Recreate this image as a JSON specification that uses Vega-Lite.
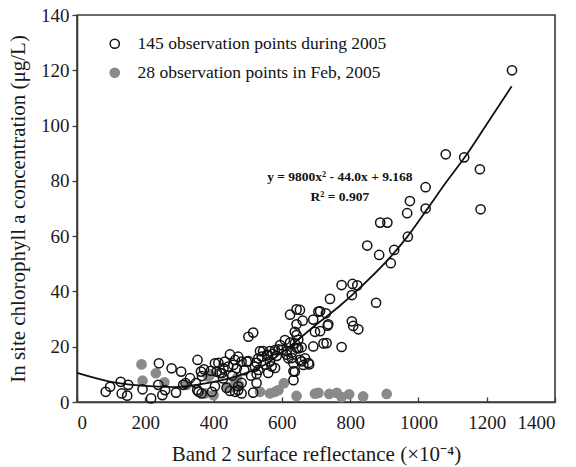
{
  "$schema": "https://vega.github.io/schema/vega-lite/v6.json",
  "width": 478,
  "height": 387,
  "autosize": {"type": "none"},
  "padding": {"left": 77, "top": 15, "right": 21, "bottom": 65},
  "background": "white",
  "config": {
    "font": "Liberation Serif",
    "view": {"stroke": "#3a3a3a", "strokeWidth": 1.6},
    "axis": {
      "grid": false,
      "domainColor": "#3a3a3a",
      "domainWidth": 1.6,
      "tickColor": "#3a3a3a",
      "tickWidth": 1.3,
      "labelFont": "Liberation Serif",
      "labelFontSize": 19,
      "labelColor": "#1a1a1a",
      "titleFont": "Liberation Serif",
      "titleFontSize": 21,
      "titleFontWeight": "normal",
      "titleColor": "#1a1a1a"
    },
    "legend": {"padding": 0}
  },
  "datasets": {
    "obs": [
      {"x": 189, "y": 13.6, "s": "B"}, {"x": 192, "y": 7.7, "s": "B"}, {"x": 231, "y": 10.4, "s": "B"}, {"x": 256, "y": 7.1, "s": "B"},
      {"x": 321, "y": 6.2, "s": "B"}, {"x": 375, "y": 3.1, "s": "B"}, {"x": 385, "y": 9.2, "s": "B"}, {"x": 390, "y": 10, "s": "B"},
      {"x": 400, "y": 2.5, "s": "B"}, {"x": 440, "y": 5.3, "s": "B"}, {"x": 450, "y": 5.3, "s": "B"}, {"x": 465, "y": 7.4, "s": "B"},
      {"x": 468, "y": 8.6, "s": "B"}, {"x": 475, "y": 6.0, "s": "B"}, {"x": 536, "y": 3.7, "s": "B"}, {"x": 565, "y": 3.1, "s": "B"},
      {"x": 580, "y": 3.7, "s": "B"}, {"x": 590, "y": 4.3, "s": "B"}, {"x": 606, "y": 6.8, "s": "B"}, {"x": 643, "y": 2.2, "s": "B"},
      {"x": 697, "y": 3.0, "s": "B"}, {"x": 707, "y": 3.3, "s": "B"}, {"x": 739, "y": 2.9, "s": "B"}, {"x": 761, "y": 3.3, "s": "B"},
      {"x": 775, "y": 1.8, "s": "B"}, {"x": 797, "y": 2.8, "s": "B"}, {"x": 838, "y": 2.0, "s": "B"}, {"x": 907, "y": 2.9, "s": "B"},

      {"x": 84, "y": 3.7, "s": "A"}, {"x": 97, "y": 5.5, "s": "A"}, {"x": 128, "y": 7.3, "s": "A"}, {"x": 131, "y": 3.1, "s": "A"},
      {"x": 147, "y": 2.3, "s": "A"}, {"x": 150, "y": 6.2, "s": "A"}, {"x": 192, "y": 4.6, "s": "A"}, {"x": 217, "y": 1.3, "s": "A"},
      {"x": 240, "y": 14, "s": "A"}, {"x": 238, "y": 6.2, "s": "A"}, {"x": 250, "y": 2.5, "s": "A"}, {"x": 258, "y": 4.3, "s": "A"},
      {"x": 277, "y": 12.2, "s": "A"}, {"x": 305, "y": 11, "s": "A"}, {"x": 290, "y": 3.4, "s": "A"}, {"x": 311, "y": 6.2, "s": "A"},
      {"x": 318, "y": 6.8, "s": "A"}, {"x": 331, "y": 8.6, "s": "A"}, {"x": 353, "y": 15.2, "s": "A"}, {"x": 363, "y": 11, "s": "A"},
      {"x": 348, "y": 6.8, "s": "A"}, {"x": 356, "y": 3.7, "s": "A"}, {"x": 372, "y": 11.8, "s": "A"}, {"x": 366, "y": 9.4, "s": "A"},
      {"x": 352, "y": 4.3, "s": "A"}, {"x": 365, "y": 3.1, "s": "A"}, {"x": 395, "y": 3.7, "s": "A"}, {"x": 392, "y": 11.3, "s": "A"},

      {"x": 404, "y": 14, "s": "A"}, {"x": 409, "y": 11, "s": "A"}, {"x": 414, "y": 14.2, "s": "A"}, {"x": 419, "y": 10.5, "s": "A"},
      {"x": 424, "y": 10.4, "s": "A"}, {"x": 429, "y": 12.2, "s": "A"}, {"x": 433, "y": 14.6, "s": "A"}, {"x": 448, "y": 17.2, "s": "A"},
      {"x": 443, "y": 12.8, "s": "A"}, {"x": 458, "y": 13.4, "s": "A"}, {"x": 463, "y": 15.2, "s": "A"}, {"x": 468, "y": 12.2, "s": "A"},
      {"x": 472, "y": 16.4, "s": "A"}, {"x": 482, "y": 14.6, "s": "A"}, {"x": 497, "y": 14.6, "s": "A"}, {"x": 502, "y": 14.8, "s": "A"},
      {"x": 463, "y": 3.7, "s": "A"}, {"x": 472, "y": 4.3, "s": "A"}, {"x": 482, "y": 3.1, "s": "A"}, {"x": 502, "y": 23.6, "s": "A"},
      {"x": 516, "y": 25.1, "s": "A"}, {"x": 516, "y": 3.4, "s": "A"}, {"x": 526, "y": 10.1, "s": "A"}, {"x": 531, "y": 11.6, "s": "A"},
      {"x": 521, "y": 12.8, "s": "A"}, {"x": 531, "y": 15.8, "s": "A"}, {"x": 541, "y": 16.4, "s": "A"}, {"x": 536, "y": 18.4, "s": "A"},
      {"x": 526, "y": 14.2, "s": "A"}, {"x": 404, "y": 5.7, "s": "A"}, {"x": 438, "y": 5.1, "s": "A"}, {"x": 472, "y": 5.7, "s": "A"},
      {"x": 482, "y": 6.9, "s": "A"}, {"x": 526, "y": 6.9, "s": "A"}, {"x": 448, "y": 4.0, "s": "A"}, {"x": 490, "y": 11.5, "s": "A"},
      {"x": 510, "y": 9.5, "s": "A"}, {"x": 455, "y": 9.5, "s": "A"}, {"x": 428, "y": 8.5, "s": "A"},

      {"x": 545, "y": 18.4, "s": "A"}, {"x": 551, "y": 13.5, "s": "A"}, {"x": 556, "y": 17, "s": "A"}, {"x": 560, "y": 10.5, "s": "A"},
      {"x": 560, "y": 17, "s": "A"}, {"x": 565, "y": 18.4, "s": "A"}, {"x": 565, "y": 14.6, "s": "A"}, {"x": 570, "y": 12.9, "s": "A"},
      {"x": 573, "y": 17.4, "s": "A"}, {"x": 580, "y": 12.3, "s": "A"}, {"x": 580, "y": 18.8, "s": "A"}, {"x": 585, "y": 16.7, "s": "A"},
      {"x": 590, "y": 19, "s": "A"}, {"x": 600, "y": 18.9, "s": "A"}, {"x": 595, "y": 20.6, "s": "A"}, {"x": 609, "y": 22.4, "s": "A"},
      {"x": 614, "y": 18.4, "s": "A"}, {"x": 614, "y": 17.1, "s": "A"}, {"x": 619, "y": 15.8, "s": "A"}, {"x": 624, "y": 21.5, "s": "A"},
      {"x": 624, "y": 31.6, "s": "A"}, {"x": 629, "y": 17.8, "s": "A"}, {"x": 629, "y": 15.9, "s": "A"}, {"x": 634, "y": 14, "s": "A"},
      {"x": 634, "y": 11.1, "s": "A"}, {"x": 634, "y": 7.9, "s": "A"}, {"x": 638, "y": 11, "s": "A"}, {"x": 638, "y": 21.2, "s": "A"},
      {"x": 638, "y": 25.4, "s": "A"}, {"x": 643, "y": 33.5, "s": "A"}, {"x": 643, "y": 28.1, "s": "A"}, {"x": 643, "y": 24.2, "s": "A"},
      {"x": 643, "y": 19.6, "s": "A"}, {"x": 648, "y": 22.5, "s": "A"}, {"x": 648, "y": 19.4, "s": "A"}, {"x": 653, "y": 33.3, "s": "A"},
      {"x": 653, "y": 15.2, "s": "A"}, {"x": 658, "y": 14.7, "s": "A"}, {"x": 658, "y": 19.8, "s": "A"}, {"x": 661, "y": 29.4, "s": "A"},
      {"x": 663, "y": 13.4, "s": "A"}, {"x": 668, "y": 15.8, "s": "A"}, {"x": 678, "y": 14.1, "s": "A"}, {"x": 680, "y": 13.6, "s": "A"},
      {"x": 692, "y": 29.8, "s": "A"}, {"x": 692, "y": 20.1, "s": "A"}, {"x": 697, "y": 25.4, "s": "A"},

      {"x": 707, "y": 32.7, "s": "A"}, {"x": 712, "y": 25.6, "s": "A"}, {"x": 712, "y": 32.8, "s": "A"}, {"x": 722, "y": 21.2, "s": "A"},
      {"x": 729, "y": 32.1, "s": "A"}, {"x": 731, "y": 21.3, "s": "A"}, {"x": 734, "y": 27.6, "s": "A"}, {"x": 736, "y": 28.1, "s": "A"},
      {"x": 741, "y": 37.3, "s": "A"}, {"x": 775, "y": 19.9, "s": "A"}, {"x": 775, "y": 42.3, "s": "A"}, {"x": 805, "y": 29.2, "s": "A"},
      {"x": 805, "y": 38.7, "s": "A"}, {"x": 807, "y": 42.7, "s": "A"}, {"x": 809, "y": 27.5, "s": "A"}, {"x": 821, "y": 42.2, "s": "A"},
      {"x": 824, "y": 26.3, "s": "A"}, {"x": 850, "y": 56.6, "s": "A"}, {"x": 876, "y": 35.9, "s": "A"}, {"x": 885, "y": 53.2, "s": "A"},
      {"x": 888, "y": 64.9, "s": "A"}, {"x": 909, "y": 64.9, "s": "A"}, {"x": 919, "y": 50.2, "s": "A"}, {"x": 929, "y": 55, "s": "A"},
      {"x": 969, "y": 59.8, "s": "A"}, {"x": 967, "y": 68.3, "s": "A"}, {"x": 975, "y": 72.7, "s": "A"}, {"x": 1021, "y": 77.7, "s": "A"},
      {"x": 1021, "y": 70, "s": "A"}, {"x": 1080, "y": 89.6, "s": "A"}, {"x": 1134, "y": 88.5, "s": "A"}, {"x": 1180, "y": 84.2, "s": "A"},
      {"x": 1182, "y": 69.7, "s": "A"}, {"x": 1274, "y": 120, "s": "A"}
    ],
    "curve": [
      {"x": 0, "y": 10.5}, {"x": 92, "y": 7.5}, {"x": 189, "y": 5.9}, {"x": 287, "y": 5.4},
      {"x": 385, "y": 6.9}, {"x": 483, "y": 9.9}, {"x": 551, "y": 13.6}, {"x": 604, "y": 18.3},
      {"x": 702, "y": 28.1}, {"x": 770, "y": 34.8}, {"x": 819, "y": 40.2}, {"x": 917, "y": 52.3},
      {"x": 970, "y": 60.2}, {"x": 1024, "y": 69.5}, {"x": 1080, "y": 79.3}, {"x": 1136, "y": 88.6},
      {"x": 1200, "y": 100.5}, {"x": 1273, "y": 114.2}
    ],
    "ann": [
      {"x": 770, "y": 81.5, "t": "y = 9800x² - 44.0x + 9.168"},
      {"x": 770, "y": 74.2, "t": "R² = 0.907"}
    ]
  },
  "layer": [
    {
      "data": {"name": "obs"},
      "mark": {"type": "point", "size": 85, "strokeWidth": 1.5, "opacity": 1},
      "encoding": {
        "x": {
          "field": "x", "type": "quantitative",
          "scale": {"domain": [0, 1400], "nice": false, "zero": false},
          "axis": {
            "values": [0, 200, 400, 600, 800, 1000, 1200, 1400],
            "format": "d",
            "tickSize": -5,
            "labelPadding": 16,
            "title": "Band 2 surface reflectance (×10⁻⁴)",
            "titlePadding": 11
          }
        },
        "y": {
          "field": "y", "type": "quantitative",
          "scale": {"domain": [0, 140], "nice": false},
          "axis": {
            "values": [0, 20, 40, 60, 80, 100, 120, 140],
            "format": "d",
            "tickSize": 5,
            "labelPadding": 3,
            "title": "In site chlorophyll a concentration (μg/L)",
            "titlePadding": 12
          }
        },
        "fill": {
          "field": "s", "type": "nominal",
          "scale": {"domain": ["A", "B"], "range": ["transparent", "#8a8a8a"]},
          "legend": {
            "orient": "none", "legendX": 29, "legendY": 20, "title": null,
            "symbolSize": 85, "symbolStrokeWidth": 1.5, "labelFontSize": 17.5,
            "labelFont": "Liberation Serif", "labelColor": "#111111", "labelLimit": 0,
            "labelOffset": 14, "rowPadding": 10,
            "labelExpr": "datum.label == 'A' ? '145 observation points during 2005' : '28 observation points in Feb, 2005'"
          }
        },
        "stroke": {
          "field": "s", "type": "nominal",
          "scale": {"domain": ["A", "B"], "range": ["#111111", "#8a8a8a"]},
          "legend": {
            "orient": "none", "legendX": 29, "legendY": 20, "title": null,
            "symbolSize": 85, "symbolStrokeWidth": 1.5, "labelFontSize": 17.5,
            "labelFont": "Liberation Serif", "labelColor": "#111111", "labelLimit": 0,
            "labelOffset": 14, "rowPadding": 10,
            "labelExpr": "datum.label == 'A' ? '145 observation points during 2005' : '28 observation points in Feb, 2005'"
          }
        }
      }
    },
    {
      "data": {"name": "curve"},
      "mark": {"type": "line", "color": "#111111", "strokeWidth": 1.8, "interpolate": "monotone"},
      "encoding": {
        "x": {"field": "x", "type": "quantitative"},
        "y": {"field": "y", "type": "quantitative"}
      }
    },
    {
      "data": {"name": "ann"},
      "mark": {"type": "text", "font": "Liberation Serif", "fontSize": 13.5, "fontWeight": "bold", "color": "#111111", "align": "center", "baseline": "middle"},
      "encoding": {
        "x": {"field": "x", "type": "quantitative"},
        "y": {"field": "y", "type": "quantitative"},
        "text": {"field": "t"}
      }
    }
  ]
}
